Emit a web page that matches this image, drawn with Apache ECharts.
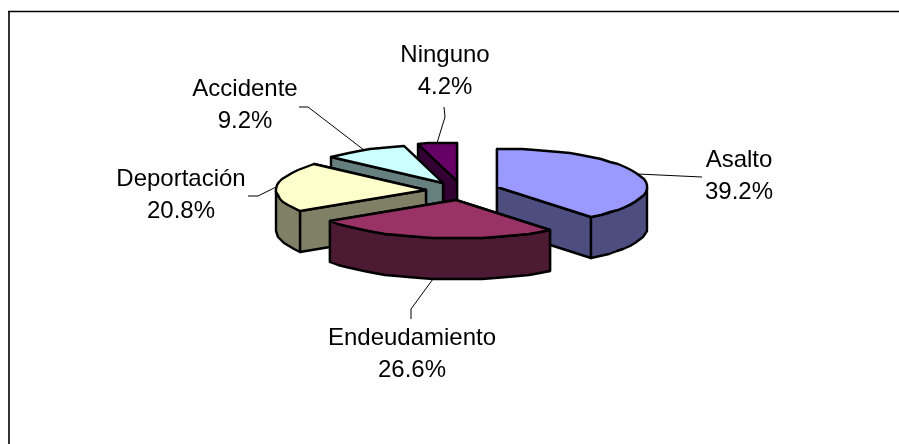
<!DOCTYPE html>
<html>
<head>
<meta charset="utf-8">
<style>
html, body { margin: 0; padding: 0; background: #fff; }
#chart { width: 899px; height: 444px; }
</style>
<script src="https://cdn.jsdelivr.net/npm/echarts@6/dist/echarts.min.js"></script>
</head>
<body>
<div id="chart"></div>
<script>
// datos
var categories = ['Asalto', 'Endeudamiento', 'Deportación', 'Accidente', 'Ninguno'];
var percents = [39.2, 26.6, 20.8, 9.2, 4.2];
var topColors = ['#9999ff', '#993366', '#ffffcc', '#ccffff', '#660066'];
var sideColors = ['#4d4d80', '#4d1a33', '#808066', '#668080', '#330033'];
// orden de pintado, de atrás hacia adelante
var paintOrder = [4, 3, 2, 0, 1];

// geometria del pastel en perspectiva
var CX = 462.2, CY = 190.6, RX = 150, RY = 38.5, DEPTH = 41, EXPLODE = 0.244;
// posicion de cada etiqueta y codo de su linea guia
var labelPos = [[739, 176], [412, 354], [181, 195], [245, 105], [445, 71]];
var leaderEnd = [[[702, 177]], [[411, 309], [411, 319]], [[258, 196], [248, 196]], [[308, 107], [299, 107]], [[445, 117], [444, 107]]];

var total = percents.reduce(function (a, b) { return a + b; }, 0);
var rad = Math.PI / 180;

function pt(c, deg, down) {
    return [
        Math.round(c[0] + RX * Math.sin(deg * rad)),
        Math.round(c[1] - RY * Math.cos(deg * rad)) + (down || 0)
    ];
}

function arc(c, from, to, down) {
    var pts = [];
    var n = Math.max(2, Math.ceil((to - from) / 5));
    for (var i = 0; i <= n; i++) {
        pts.push(pt(c, from + (to - from) * i / n, down));
    }
    return pts;
}

function poly(points, fill) {
    return {
        type: 'polygon',
        shape: { points: points },
        style: { fill: fill, stroke: '#000', lineWidth: 2.4, lineJoin: 'round' }
    };
}

// angulos acumulados de cada rebanada
var slices = [];
var acc = 0;
percents.forEach(function (p, i) {
    var a0 = acc / total * 360;
    acc += p;
    var a1 = acc / total * 360;
    var mid = (a0 + a1) / 2;
    slices.push({
        a0: a0, a1: a1, mid: mid,
        c: [
            Math.round(CX + RX * EXPLODE * Math.sin(mid * rad)),
            Math.round(CY - RY * EXPLODE * Math.cos(mid * rad))
        ]
    });
});

function cutFace(c, deg, color) {
    var r = pt(c, deg);
    return poly([[c[0], c[1]], r, [r[0], r[1] + DEPTH], [c[0], c[1] + DEPTH]], color);
}

function renderSlice(params, api) {
    var i = api.value(0);
    var s = slices[i];
    var c = s.c;
    var children = [];

    // caras de corte, primero la de mas atras
    var cuts = [s.a0, s.a1].sort(function (a, b) { return pt(c, a)[1] - pt(c, b)[1]; });
    cuts.forEach(function (deg) {
        children.push(cutFace(c, deg, sideColors[i]));
    });

    // borde frontal, solo entre 90 y 270 grados
    var f0 = Math.max(s.a0, 90), f1 = Math.min(s.a1, 270);
    if (f1 > f0) {
        var upper = arc(c, f0, f1, 0);
        var lower = arc(c, f0, f1, DEPTH).reverse();
        children.push(poly(upper.concat(lower), sideColors[i]));
    }

    // cara superior
    children.push(poly([[c[0], c[1]]].concat(arc(c, s.a0, s.a1, 0)), topColors[i]));
    return { type: 'group', children: children };
}

function renderLabel(params, api) {
    var i = api.value(0);
    var s = slices[i];
    var front = s.mid > 90 && s.mid < 270 ? DEPTH : 0;
    var start = pt(s.c, s.mid, front);
    return {
        type: 'group',
        children: [
            {
                type: 'polyline',
                shape: { points: [start].concat(leaderEnd[i]) },
                style: { fill: null, stroke: '#000', lineWidth: 1 }
            },
            {
                type: 'text',
                x: labelPos[i][0],
                y: labelPos[i][1],
                style: {
                    text: categories[i] + '\n' + percents[i].toFixed(1) + '%',
                    fill: '#000',
                    font: '24px "Liberation Sans", Arial, sans-serif',
                    lineHeight: 32,
                    align: 'center',
                    verticalAlign: 'middle'
                }
            }
        ]
    };
}

var chart = echarts.init(document.getElementById('chart'), null, { renderer: 'canvas' });
chart.setOption({
    animation: false,
    backgroundColor: '#fff',
    graphic: [
        {
            type: 'line',
            shape: { x1: 9, y1: 11, x2: 9, y2: 444 },
            style: { stroke: '#333', lineWidth: 2 }
        },
        {
            type: 'line',
            shape: { x1: 8, y1: 11.5, x2: 899, y2: 11.5 },
            style: { stroke: '#000', lineWidth: 1.5 }
        }
    ],
    series: [
        {
            type: 'custom',
            coordinateSystem: 'none',
            renderItem: renderSlice,
            data: paintOrder.map(function (i) { return [i, percents[i]]; }),
            silent: true
        },
        {
            type: 'custom',
            coordinateSystem: 'none',
            renderItem: renderLabel,
            data: paintOrder.map(function (i) { return [i, percents[i]]; }),
            silent: true,
            z: 3
        }
    ]
});
</script>
</body>
</html>
